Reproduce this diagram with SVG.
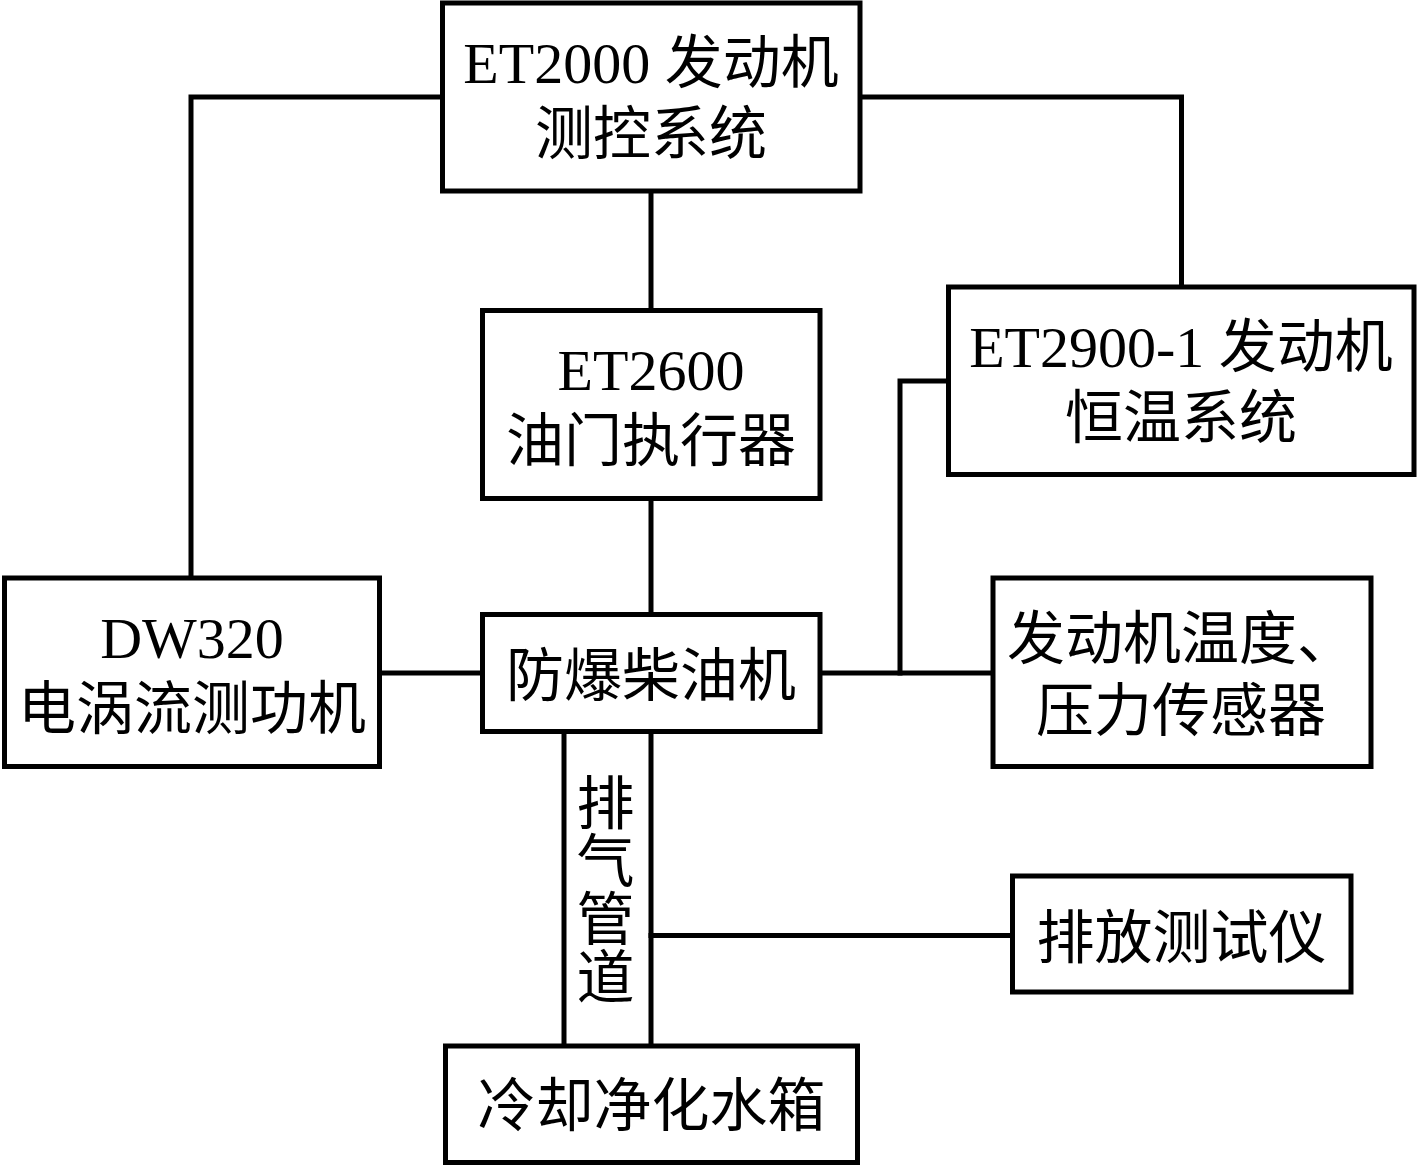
<svg xmlns="http://www.w3.org/2000/svg" width="1418" height="1167" viewBox="0 0 1418 1167">
<style>
.box{fill:#fff;stroke:#000;stroke-width:5}
.ln{fill:none;stroke:#000;stroke-width:5;stroke-linejoin:miter;stroke-linecap:square}
text{font-family:"Liberation Serif","Noto Sans CJK SC",serif;font-size:58px;fill:#000;text-anchor:middle}
.vt{writing-mode:vertical-rl;text-anchor:start}
</style>
<rect width="1418" height="1167" fill="#fff"/>
<g id="connectors">
<polyline class="ln" points="442.5,97 191,97 191,578"/>
<polyline class="ln" points="860,97 1181.5,97 1181.5,287"/>
<line class="ln" x1="651" y1="191" x2="651" y2="310.5"/>
<line class="ln" x1="651" y1="498.5" x2="651" y2="614.5"/>
<line class="ln" x1="379.5" y1="673" x2="482.5" y2="673"/>
<line class="ln" x1="820" y1="673" x2="993" y2="673"/>
<polyline class="ln" points="900,673 900,381 948.5,381"/>
<line class="ln" x1="564" y1="731.5" x2="564" y2="1046"/>
<line class="ln" x1="651" y1="731.5" x2="651" y2="1046"/>
<line class="ln" x1="651" y1="935.5" x2="1012.5" y2="935.5"/>
</g>
<g id="et2000">
<rect class="box" x="442.5" y="3" width="417.5" height="188"/>
<text x="651" y="83">ET2000 发动机</text>
<text x="651" y="154">测控系统</text>
</g>
<g id="et2600">
<rect class="box" x="482.5" y="310.5" width="337.5" height="188"/>
<text x="651" y="390">ET2600</text>
<text x="651" y="461">油门执行器</text>
</g>
<g id="et2900">
<rect class="box" x="948.5" y="287" width="465.5" height="187.5"/>
<text x="1181" y="367">ET2900-1 发动机</text>
<text x="1181" y="438">恒温系统</text>
</g>
<g id="dw320">
<rect class="box" x="4.5" y="578" width="375" height="188.5"/>
<text x="192" y="658">DW320</text>
<text x="192" y="729">电涡流测功机</text>
</g>
<g id="engine">
<rect class="box" x="482.5" y="614.5" width="337.5" height="117"/>
<text x="651" y="696">防爆柴油机</text>
</g>
<g id="sensors">
<rect class="box" x="993" y="578" width="378" height="188.5"/>
<text x="1181" y="659">发动机温度、</text>
<text x="1181" y="731">压力传感器</text>
</g>
<g id="emission">
<rect class="box" x="1012.5" y="876" width="338.5" height="116"/>
<text x="1181.5" y="958">排放测试仪</text>
</g>
<g id="exhaust">
<text class="vt" x="600" y="773">排气管道</text>
</g>
<g id="cooling">
<rect class="box" x="445.5" y="1046" width="412" height="116.5"/>
<text x="651.5" y="1126">冷却净化水箱</text>
</g>
</svg>
